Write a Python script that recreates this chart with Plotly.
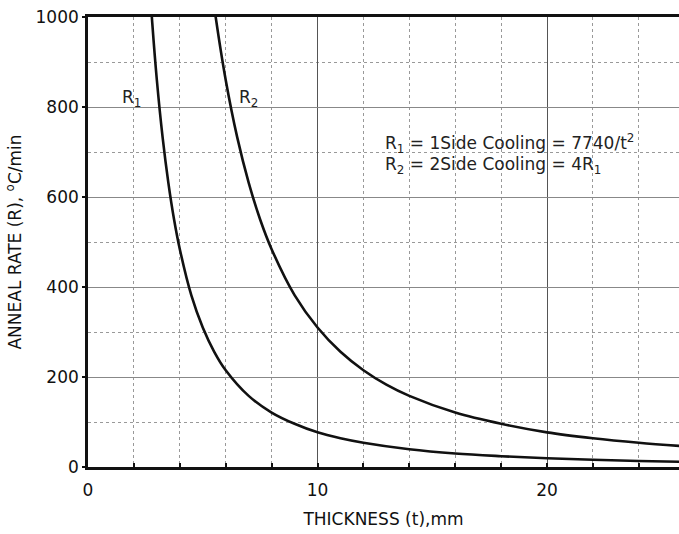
import plotly.graph_objects as go

# Thickness values (mm) and anneal rates
t_r1 = [2.7, 2.8, 3.0, 3.25, 3.5, 3.75, 4.0, 4.5, 5.0, 5.5, 6.0, 7.0, 8.0, 9.0, 10.0, 11.0, 12.0, 14.0, 16.0, 18.0, 20.0, 22.0, 24.0, 26.0]
r1 = [1062, 987, 860, 733, 632, 550, 484, 382, 310, 256, 215, 158, 121, 96, 77, 64, 54, 39.5, 30, 24, 19.4, 16, 13.4, 11.5]

t_r2 = [5.4, 5.56, 6.0, 6.5, 7.0, 7.5, 8.0, 9.0, 10.0, 11.0, 12.0, 13.0, 14.0, 16.0, 18.0, 20.0, 22.0, 24.0, 26.0]
r2 = [1062, 1001, 860, 733, 632, 550, 484, 382, 310, 256, 215, 183, 158, 121, 96, 77, 64, 54, 46]

x_ticks = [0, 10, 20]
y_ticks = [0, 200, 400, 600, 800, 1000]

FONT = "DejaVu Sans, Verdana, sans-serif"
FS = 17

fig = go.Figure()
fig.add_trace(go.Scatter(x=t_r1, y=r1, mode="lines", line=dict(color="#111", width=2.6, shape="spline"),
                         showlegend=False, hoverinfo="skip"))
fig.add_trace(go.Scatter(x=t_r2, y=r2, mode="lines", line=dict(color="#111", width=2.6, shape="spline"),
                         showlegend=False, hoverinfo="skip"))

annots = [
    dict(x=1.9, y=818, text="R<sub>1</sub>"),
    dict(x=7.0, y=818, text="R<sub>2</sub>"),
]
for a in annots:
    fig.add_annotation(x=a["x"], y=a["y"], text=a["text"], showarrow=False, xref="x", yref="y",
                       font=dict(family=FONT, size=FS, color="#222"), bgcolor="rgba(0,0,0,0)")

fig.add_annotation(x=12.85, y=719, text="R<sub>1</sub> = 1Side Cooling = 7740/t<sup>2</sup>", showarrow=False,
                   xref="x", yref="y", xanchor="left", font=dict(family=FONT, size=FS, color="#222"))
fig.add_annotation(x=12.85, y=671, text="R<sub>2</sub> = 2Side Cooling = 4R<sub>1</sub>", showarrow=False,
                   xref="x", yref="y", xanchor="left", font=dict(family=FONT, size=FS, color="#222"))

fig.update_layout(
    width=679, height=534,
    margin=dict(l=88, r=0, t=17, b=67),
    paper_bgcolor="white", plot_bgcolor="white",
    font=dict(family=FONT, size=FS, color="#111"),
    xaxis=dict(
        range=[0, 25.75], tickvals=x_ticks, ticks="inside", ticklen=4, tickwidth=2, tickcolor="#111",
        showline=True, linecolor="#111", linewidth=2.6, mirror=True,
        showgrid=True, gridcolor="#555", gridwidth=1.2,
        minor=dict(dtick=2, tick0=0, showgrid=True, gridcolor="#999", griddash="dot", gridwidth=1.2,
                   ticks="inside", ticklen=4, tickcolor="#111"),
        ticklabelstandoff=6,
        title=dict(text="THICKNESS (t),mm", standoff=14, font=dict(size=FS)),
        zeroline=False, tickfont=dict(size=FS),
    ),
    yaxis=dict(
        range=[0, 1000], tickvals=y_ticks, ticks="outside", ticklen=3, tickwidth=1.5, tickcolor="#111",
        showline=True, linecolor="#111", linewidth=2.6,
        showgrid=True, gridcolor="#888", gridwidth=1.3,
        minor=dict(dtick=100, tick0=0, showgrid=True, gridcolor="#999", griddash="dot", gridwidth=1.2),
        title=dict(text="ANNEAL RATE (R), <sup>o</sup>C/min", standoff=10, font=dict(size=FS)),
        zeroline=False, tickfont=dict(size=FS),
    ),
)

fig.write_html("out.html")
